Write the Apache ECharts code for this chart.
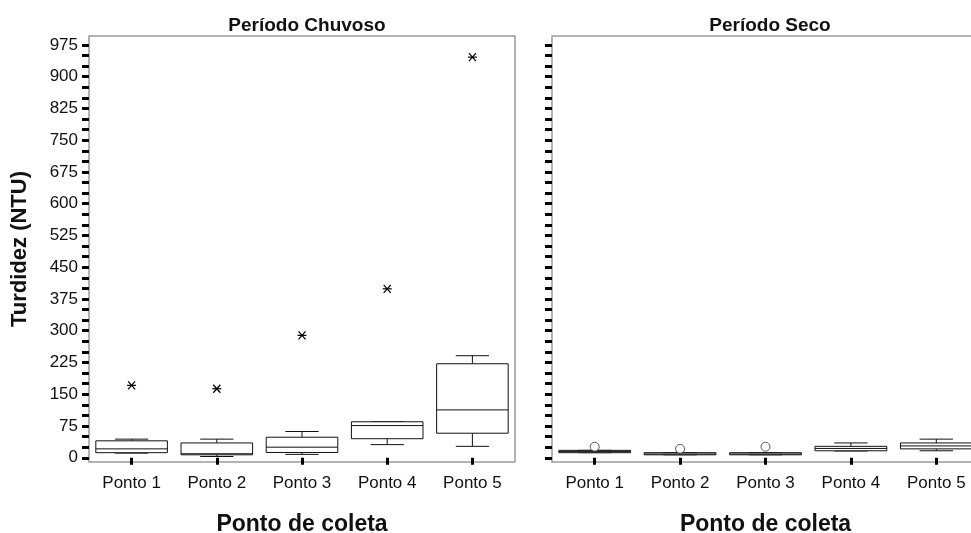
<!DOCTYPE html>
<html>
<head>
<meta charset="utf-8">
<script src="https://cdn.jsdelivr.net/npm/echarts@6/dist/echarts.min.js"></script>
<style>
html,body{margin:0;padding:0;background:#fff;}
#chart{width:971px;height:533px;}
</style>
</head>
<body>
<div id="chart"></div>
<script>
// ---- data ----
const categories = ['Ponto 1', 'Ponto 2', 'Ponto 3', 'Ponto 4', 'Ponto 5'];
// [min, Q1, median, Q3, max]
const chuvosoBox = [
  [11, 12, 21, 40, 44],
  [3, 7, 9.5, 35, 44],
  [8, 12.5, 25, 48.5, 62],
  [31, 45, 76, 85, 85],
  [27, 58, 113, 222, 241]
];
const chuvosoOutliers = [[0, 171], [1, 163], [2, 289], [3, 399], [4, 946]];
const secoBox = [
  [12, 12, 15, 17.5, 17.5],
  [7, 7, 9, 12, 12],
  [7, 7, 9, 12, 12],
  [16, 16.5, 22, 27, 35],
  [16.5, 21, 28, 35, 44]
];
const secoOutliers = [[0, 26], [1, 21], [2, 26]];
const yTicks = [];
for (let v = 0; v <= 975; v += 25) yTicks.push(v);
const yLabels = [];
for (let v = 0; v <= 975; v += 75) yLabels.push(v);
const panelTitles = ['Período Chuvoso', 'Período Seco'];
const xName = 'Ponto de coleta';
const yName = 'Turdidez (NTU)';

// ---- chart ----
const FONT = 'Liberation Sans, Arial, sans-serif';
const chart = echarts.init(document.getElementById('chart'));

function boxRender(params, api) {
  const idx = api.value(0);
  const band = api.size([1, 0])[0];
  const bw = band * 0.84, cw = band * 0.39;
  const pMin = api.coord([idx, api.value(1)]);
  const pQ1 = api.coord([idx, api.value(2)]);
  const pMed = api.coord([idx, api.value(3)]);
  const pQ3 = api.coord([idx, api.value(4)]);
  const pMax = api.coord([idx, api.value(5)]);
  const x = pMin[0];
  const st = {stroke: '#111', lineWidth: 1, fill: null};
  return {
    type: 'group',
    children: [
      {type: 'line', shape: {x1: x, y1: pMax[1], x2: x, y2: pQ3[1]}, style: st},
      {type: 'line', shape: {x1: x, y1: pMin[1], x2: x, y2: pQ1[1]}, style: st},
      {type: 'line', shape: {x1: x - cw / 2, y1: pMax[1], x2: x + cw / 2, y2: pMax[1]}, style: st},
      {type: 'line', shape: {x1: x - cw / 2, y1: pMin[1], x2: x + cw / 2, y2: pMin[1]}, style: st},
      {type: 'rect', shape: {x: x - bw / 2, y: pQ3[1], width: bw, height: pQ1[1] - pQ3[1]},
        style: {fill: '#fff', stroke: '#111', lineWidth: 1}},
      {type: 'line', shape: {x1: x - bw / 2, y1: pMed[1], x2: x + bw / 2, y2: pMed[1]}, style: st}
    ]
  };
}

function starRender(params, api) {
  const p = api.coord([api.value(0), api.value(1)]);
  const st = {stroke: '#000', lineWidth: 1.2};
  return {
    type: 'group',
    children: [
      {type: 'line', shape: {x1: p[0] - 4.5, y1: p[1], x2: p[0] + 4.5, y2: p[1]}, style: st},
      {type: 'line', shape: {x1: p[0] - 3.5, y1: p[1] - 4, x2: p[0] + 3.5, y2: p[1] + 4}, style: st},
      {type: 'line', shape: {x1: p[0] - 3.5, y1: p[1] + 4, x2: p[0] + 3.5, y2: p[1] - 4}, style: st}
    ]
  };
}

function xAxisCfg(gi) {
  return {
    type: 'category', gridIndex: gi, data: categories, boundaryGap: true,
    axisLine: {show: false},
    axisTick: {show: true, alignWithLabel: true, length: 7, lineStyle: {color: '#000', width: 3}},
    axisLabel: {color: '#111', fontSize: 17, fontFamily: FONT, margin: 13},
    name: xName, nameLocation: 'middle', nameGap: 51,
    nameTextStyle: {fontSize: 23, fontWeight: 'bold', color: '#111', fontFamily: FONT},
    splitLine: {show: false}
  };
}
function yAxisCfg(gi, labels) {
  const a = {
    type: 'value', gridIndex: gi, min: -10, max: 996,
    axisLine: {show: false},
    splitLine: {show: false},
    axisTick: {show: true, customValues: yTicks, length: 7, lineStyle: {color: '#000', width: 3}},
    axisLabel: labels ? {show: true, customValues: yLabels, color: '#111', fontSize: 17, fontFamily: FONT, margin: 11}
                      : {show: false}
  };
  if (labels) {
    a.name = yName; a.nameLocation = 'middle'; a.nameGap = 58;
    a.nameTextStyle = {fontSize: 22, fontWeight: 'bold', color: '#111', fontFamily: FONT};
  }
  return a;
}

const gridStyle = {show: true, borderColor: '#9a9a9a', borderWidth: 1.5, backgroundColor: 'transparent',
  containLabel: false, outerBoundsMode: 'none'};

chart.setOption({
  animation: false,
  backgroundColor: '#fff',
  title: [
    {text: panelTitles[0], left: 302, top: 11, textAlign: 'center',
      textStyle: {fontSize: 19, fontWeight: 'bold', color: '#111', fontFamily: FONT}},
    {text: panelTitles[1], left: 765, top: 11, textAlign: 'center',
      textStyle: {fontSize: 19, fontWeight: 'bold', color: '#111', fontFamily: FONT}}
  ],
  grid: [
    Object.assign({left: 89, top: 36, width: 426, height: 426}, gridStyle),
    Object.assign({left: 552, top: 36, width: 427, height: 426}, gridStyle)
  ],
  xAxis: [xAxisCfg(0), xAxisCfg(1)],
  yAxis: [yAxisCfg(0, true), yAxisCfg(1, false)],
  series: [
    {type: 'custom', xAxisIndex: 0, yAxisIndex: 0, renderItem: boxRender,
      data: chuvosoBox.map((b, i) => [i].concat(b)), encode: {x: 0, y: [1, 2, 3, 4, 5]}},
    {type: 'custom', xAxisIndex: 0, yAxisIndex: 0, renderItem: starRender,
      data: chuvosoOutliers, encode: {x: 0, y: 1}},
    {type: 'custom', xAxisIndex: 1, yAxisIndex: 1, renderItem: boxRender,
      data: secoBox.map((b, i) => [i].concat(b)), encode: {x: 0, y: [1, 2, 3, 4, 5]}},
    {type: 'scatter', xAxisIndex: 1, yAxisIndex: 1, data: secoOutliers,
      symbol: 'circle', symbolSize: 9,
      itemStyle: {color: '#fff', borderColor: '#333', borderWidth: 1}}
  ]
});
</script>
</body>
</html>
